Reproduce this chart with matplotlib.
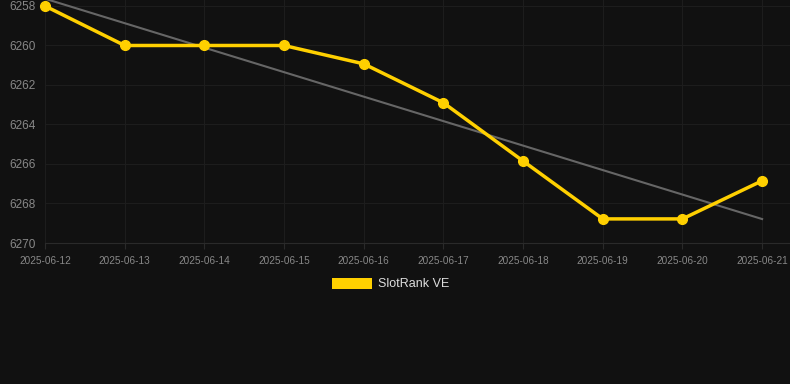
import numpy as np
import matplotlib
matplotlib.use('Agg')
import matplotlib.pyplot as plt
from matplotlib.patches import Patch

# 数据
dates = ['2025-06-12', '2025-06-13', '2025-06-14', '2025-06-15', '2025-06-16',
         '2025-06-17', '2025-06-18', '2025-06-19', '2025-06-20', '2025-06-21']
ranks = [6258, 6260, 6260, 6260, 6260.93, 6262.9, 6265.85, 6268.78, 6268.78, 6266.85]
y_ticks = [6258, 6260, 6262, 6264, 6266, 6268, 6270]
series_name = 'SlotRank VE'

bg = '#111111'
yellow = '#FFD000'

plt.rcParams['font.family'] = ['Liberation Sans', 'DejaVu Sans']

fig = plt.figure(figsize=(7.9, 3.84), dpi=100)
fig.patch.set_facecolor(bg)
ax = fig.add_axes([45 / 790, 1 - 243 / 384, 745 / 790, 243 / 384])
ax.set_facecolor(bg)

x = np.arange(len(dates))

# 趋势线（线性回归）
k, b = np.polyfit(x, ranks, 1)
ax.plot(x, k * x + b, color='#666666', linewidth=1.5, zorder=2, clip_on=False)

ax.plot(x, ranks, color=yellow, linewidth=2.5, marker='o', markersize=7,
        zorder=3, clip_on=False)

ax.set_xlim(0, 9.35)
ax.set_ylim(6270, 6258 - 6 / 19.78)
ax.set_xticks(x)
ax.set_xticklabels(dates)
ax.set_yticks(y_ticks)

ax.grid(True, color='#1d1d1d', linewidth=0.8)
ax.set_axisbelow(True)
for s in ['top', 'right', 'left']:
    ax.spines[s].set_visible(False)
ax.spines['bottom'].set_color('#2a2a2a')

ax.tick_params(axis='y', length=0, pad=7, labelsize=8.5, labelcolor='#888888')
ax.tick_params(axis='x', length=4, color='#2a2a2a', pad=5, labelsize=7.2,
               labelcolor='#888888')

handle = Patch(facecolor=yellow, edgecolor='none', label=series_name)
leg = fig.legend(handles=[handle], loc='center', bbox_to_anchor=(391 / 790, 1 - 284 / 384),
                 frameon=False, fontsize=9, handlelength=3.2, handleheight=1.0,
                 handletextpad=0.5, labelcolor='#dddddd')

fig.savefig('out.png', dpi=100, facecolor=bg)
